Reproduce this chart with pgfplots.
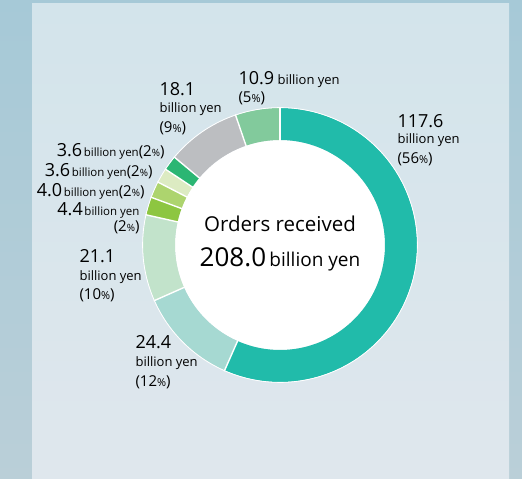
\documentclass[border=0pt]{standalone}
\usepackage{pgfplots}
\pgfplotsset{compat=1.18}
\usepackage{fontspec}
\setmainfont{Open Sans}
\definecolor{cA}{HTML}{21BBAA}
\definecolor{cB}{HTML}{A6D9D2}
\definecolor{cC}{HTML}{C2E3CB}
\definecolor{cD}{HTML}{8DC641}
\definecolor{cE}{HTML}{ADD46E}
\definecolor{cF}{HTML}{DCEBC2}
\definecolor{cG}{HTML}{2BB673}
\definecolor{cH}{HTML}{BCBEC1}
\definecolor{cI}{HTML}{82CA9C}
\definecolor{txt}{HTML}{2A2A2A}
\definecolor{frameT}{HTML}{A6C9D7}
\definecolor{frameB}{HTML}{BACFD8}
\definecolor{panelT}{HTML}{D3E4EB}
\definecolor{panelB}{HTML}{DFE7ED}
% values (billion yen), clockwise from top
\def\vA{117.6}\def\vB{24.4}\def\vC{21.1}\def\vD{4.4}\def\vE{4.0}
\def\vF{3.6}\def\vG{3.6}\def\vH{18.1}\def\vI{10.9}
\pgfmathsetmacro\T{\vA+\vB+\vC+\vD+\vE+\vF+\vG+\vH+\vI}
\pgfmathsetmacro\aA{90}
\pgfmathsetmacro\aB{\aA-\vA/\T*360}
\pgfmathsetmacro\aC{\aB-\vB/\T*360}
\pgfmathsetmacro\aD{\aC-\vC/\T*360}
\pgfmathsetmacro\aE{\aD-\vD/\T*360}
\pgfmathsetmacro\aF{\aE-\vE/\T*360}
\pgfmathsetmacro\aG{\aF-\vF/\T*360}
\pgfmathsetmacro\aH{\aG-\vG/\T*360}
\pgfmathsetmacro\aI{\aH-\vH/\T*360}
\pgfmathsetmacro\aJ{\aI-\vI/\T*360}
\newcommand\bnum[1]{{\fontsize{18}{18}\selectfont #1}}
\newcommand\stxt[1]{{\fontsize{13}{13}\selectfont #1}}
\newcommand\pc{{\fontsize{11}{11}\selectfont\%}}
\newcommand\spc{{\fontsize{10}{10}\selectfont\%}}
\newcommand\mtxt[1]{{\fontsize{15}{15}\selectfont #1}}
\newcommand\xsm{\fontsize{11.5}{11.5}\selectfont}
\begin{document}
\begin{tikzpicture}
\begin{axis}[x=1pt,y=1pt,xmin=-280,xmax=242,ymin=-234,ymax=245,
  hide axis,clip=false,
  every node/.append style={text=txt,inner sep=0pt,outer sep=0pt}]
% background
\fill[top color=frameT,bottom color=frameB] (axis cs:-280,-234) rectangle (axis cs:242,245);
\fill[top color=panelT,bottom color=panelB] (axis cs:-248,-234) rectangle (axis cs:229,241);
% white centre
\addplot[fill=white,draw=none,data cs=polar,domain=0:360,samples=180] (x,105);
% ring segments
\addplot[draw=cA,line width=32pt,data cs=polar,domain=\aB:\aA,samples=120] (x,121);
\addplot[draw=cB,line width=32pt,data cs=polar,domain=\aC:\aB,samples=40] (x,121);
\addplot[draw=cC,line width=32pt,data cs=polar,domain=\aD:\aC,samples=40] (x,121);
\addplot[draw=cD,line width=32pt,data cs=polar,domain=\aE:\aD,samples=10] (x,121);
\addplot[draw=cE,line width=32pt,data cs=polar,domain=\aF:\aE,samples=10] (x,121);
\addplot[draw=cF,line width=32pt,data cs=polar,domain=\aG:\aF,samples=10] (x,121);
\addplot[draw=cG,line width=32pt,data cs=polar,domain=\aH:\aG,samples=10] (x,121);
\addplot[draw=cH,line width=32pt,data cs=polar,domain=\aI:\aH,samples=40] (x,121);
\addplot[draw=cI,line width=32pt,data cs=polar,domain=\aJ:\aI,samples=30] (x,121);
% separators
\addplot[white,line width=1.4pt,data cs=polar] coordinates {(\aA,104) (\aA,138)};
\addplot[white,line width=1.4pt,data cs=polar] coordinates {(\aB,104) (\aB,138)};
\addplot[white,line width=1.4pt,data cs=polar] coordinates {(\aC,104) (\aC,138)};
\addplot[white,line width=1.4pt,data cs=polar] coordinates {(\aD,104) (\aD,138)};
\addplot[white,line width=1.4pt,data cs=polar] coordinates {(\aE,104) (\aE,138)};
\addplot[white,line width=1.4pt,data cs=polar] coordinates {(\aF,104) (\aF,138)};
\addplot[white,line width=1.4pt,data cs=polar] coordinates {(\aG,104) (\aG,138)};
\addplot[white,line width=1.4pt,data cs=polar] coordinates {(\aH,104) (\aH,138)};
\addplot[white,line width=1.4pt,data cs=polar] coordinates {(\aI,104) (\aI,138)};
\addplot[white,line width=0.8pt,data cs=polar,domain=0:360,samples=200] (x,137.4);
% labels
\node[anchor=base west] at (axis cs:114,117.5) {\bnum{117.6}};
\node[anchor=base west] at (axis cs:114,101) {\stxt{billion yen}};
\node[anchor=base west] at (axis cs:114,81.5) {\mtxt{(56\pc)}};
\node[anchor=base west] at (axis cs:-124,149) {\bnum{18.1}};
\node[anchor=base west] at (axis cs:-124,132) {\stxt{billion yen}};
\node[anchor=base west] at (axis cs:-124,112) {\mtxt{(9\pc)}};
\node[anchor=base west] at (axis cs:-45,160) {\bnum{10.9}\,\,\stxt{billion yen}};
\node[anchor=base west] at (axis cs:-45,142) {\mtxt{(5\pc)}};
\node[anchor=base east] at (axis cs:-112,88) {\bnum{3.6}\,{\xsm billion yen}\mtxt{(2\spc)}};
\node[anchor=base east] at (axis cs:-124,68) {\bnum{3.6}\,{\xsm billion yen}\mtxt{(2\spc)}};
\node[anchor=base east] at (axis cs:-132,48) {\bnum{4.0}\,{\xsm billion yen}\mtxt{(2\spc)}};
\node[anchor=base east] at (axis cs:-137,29) {\bnum{4.4}\,{\xsm billion yen}};
\node[anchor=base east] at (axis cs:-137,13) {\mtxt{(2\spc)}};
\node[anchor=base west] at (axis cs:-204,-18) {\bnum{21.1}};
\node[anchor=base west] at (axis cs:-204,-36) {\stxt{billion yen}};
\node[anchor=base west] at (axis cs:-204,-55) {\mtxt{(10\pc)}};
\node[anchor=base west] at (axis cs:-148,-104) {\bnum{24.4}};
\node[anchor=base west] at (axis cs:-148,-122) {\stxt{billion yen}};
\node[anchor=base west] at (axis cs:-148,-142) {\mtxt{(12\pc)}};
\node[anchor=base] at (axis cs:0,13) {{\fontsize{20.5}{20.5}\selectfont Orders received}};
\node[anchor=base] at (axis cs:0,-22) {{\fontsize{26}{26}\selectfont 208.0}\,\,{\fontsize{19}{19}\selectfont billion yen}};
\end{axis}
\end{tikzpicture}
\end{document}
